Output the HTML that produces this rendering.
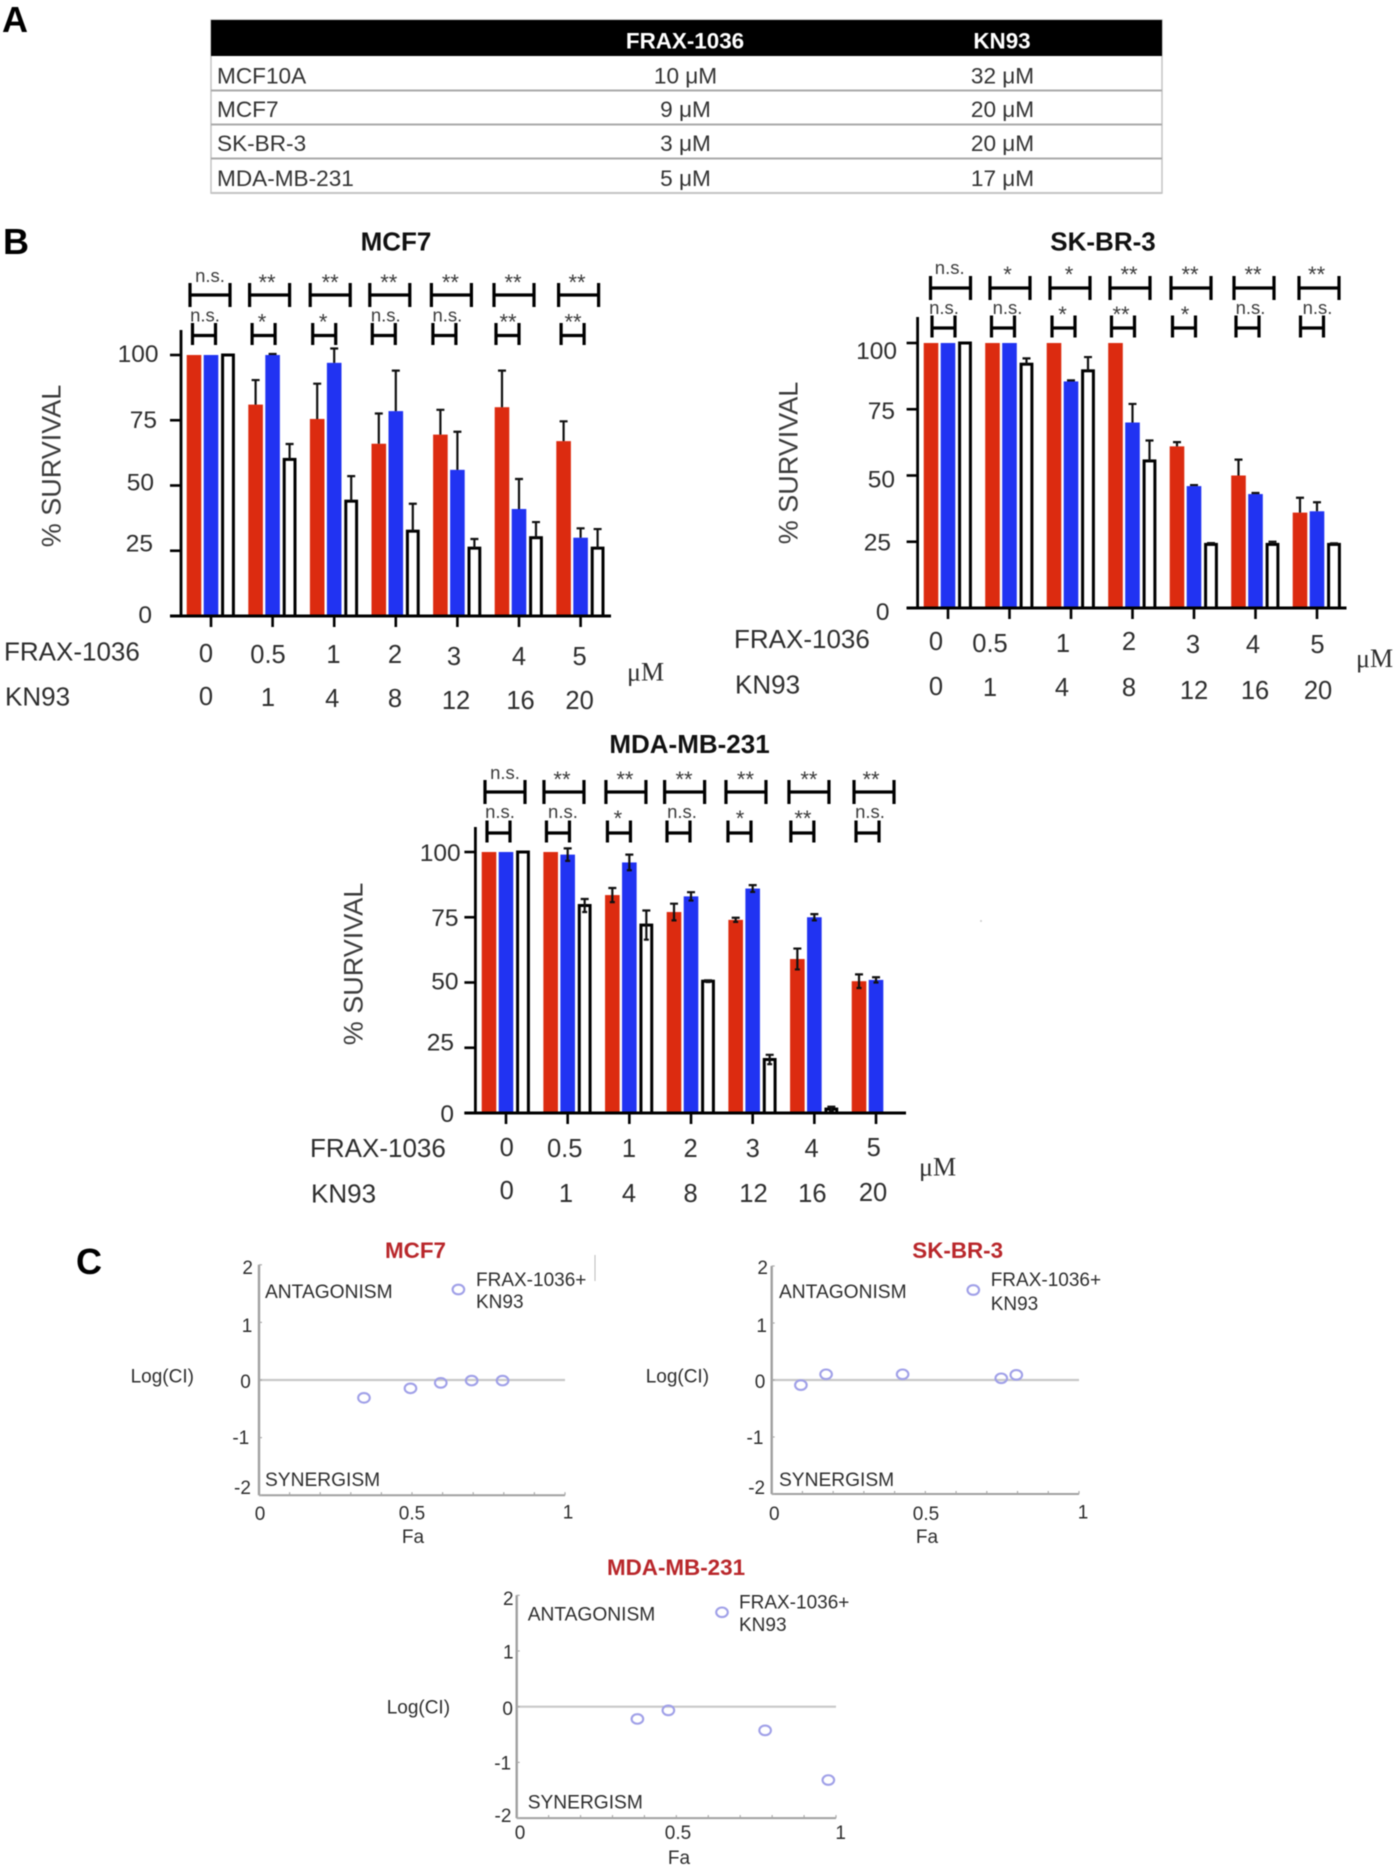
<!DOCTYPE html>
<html lang="en">
<head>
<meta charset="utf-8">
<title>FRAX-1036 and KN93 survival figure</title>
<style>
html,body{margin:0;padding:0;background:#fff;}
body{width:1399px;height:1868px;overflow:hidden;}
#figure{display:block;filter:blur(0.55px);}
text{font-family:"Liberation Sans",Arial,sans-serif;}
</style>
</head>
<body>
<svg id="figure" xmlns="http://www.w3.org/2000/svg" width="1399" height="1868" viewBox="0 0 1399 1868">
  <rect x="0" y="0" width="1399" height="1868" fill="#fff"/>
  <text x="2" y="32" font-size="36" font-weight="700" fill="#000">A</text>
  <text x="3" y="254" font-size="36" font-weight="700" fill="#000">B</text>
  <text x="76" y="1274" font-size="36" font-weight="700" fill="#000">C</text>

  <g>
    <rect x="211" y="20" width="951" height="173" fill="#fff" stroke="#c4c4c4" stroke-width="1.5"/>
    <rect x="211" y="20" width="951" height="36" fill="#000"/>
    <text x="688" y="48.5" font-size="22.4" font-weight="700" fill="#fff" text-anchor="middle" dx="0" transform="translate(-3,0)">FRAX-1036</text>
    <text x="1005" y="48.5" font-size="22.4" font-weight="700" fill="#fff" text-anchor="middle" transform="translate(-3,0)">KN93</text>
    <line x1="211" x2="1162" y1="90.5" y2="90.5" stroke="#aaa" stroke-width="2"/>
    <line x1="211" x2="1162" y1="124.5" y2="124.5" stroke="#aaa" stroke-width="2"/>
    <line x1="211" x2="1162" y1="158.5" y2="158.5" stroke="#aaa" stroke-width="2"/>
    <line x1="211" x2="1162" y1="193" y2="193" stroke="#c4c4c4" stroke-width="2"/>
    <g font-size="22.6" fill="#333">
      <text x="217" y="83.5">MCF10A</text>
      <text x="685.5" y="83.5" text-anchor="middle">10 μM</text>
      <text x="1002.5" y="83.5" text-anchor="middle">32 μM</text>
      <text x="217" y="117">MCF7</text>
      <text x="685.5" y="117" text-anchor="middle">9 μM</text>
      <text x="1002.5" y="117" text-anchor="middle">20 μM</text>
      <text x="217" y="151">SK-BR-3</text>
      <text x="685.5" y="151" text-anchor="middle">3 μM</text>
      <text x="1002.5" y="151" text-anchor="middle">20 μM</text>
      <text x="217" y="186">MDA-MB-231</text>
      <text x="685.5" y="186" text-anchor="middle">5 μM</text>
      <text x="1002.5" y="186" text-anchor="middle">17 μM</text>
    </g>
  </g>

  <line x1="595" x2="595" y1="1255" y2="1281" stroke="#bbb" stroke-width="1"/>
  <circle cx="981" cy="921" r="1" fill="#ccc"/>
  <g id="charts"></g>
</svg>

<script>
/* ---------- shared categories and tick labels ---------- */
const survivalTicks = [0, 25, 50, 75, 100];
const fraxDoses = ['0', '0.5', '1', '2', '3', '4', '5'];
const kn93Doses = ['0', '1', '4', '8', '12', '16', '20'];
const ciTicks = [2, 1, 0, -1, -2];
const faTicks = ['0', '0.5', '1'];

/* ---------- MCF7 survival ---------- */
const mcf7Frax = [100, 81, 75.5, 66, 69.5, 80, 67];
const mcf7Kn93 = [100, 100, 97, 78.5, 56, 41, 30];
const mcf7Combo = [100, 60, 44, 32.5, 26, 30, 26];
const mcf7FraxErr = [0, 9.4, 13.5, 11.6, 9.5, 14, 7.6];
const mcf7Kn93Err = [0, 0.4, 5.5, 15.5, 14.6, 11.5, 3.6];
const mcf7ComboErr = [0, 5.9, 9.6, 10.5, 3.5, 6, 7.3];
const mcf7SigTop = ['n.s.', '**', '**', '**', '**', '**', '**'];
const mcf7SigLow = ['n.s.', '*', '*', 'n.s.', 'n.s.', '**', '**'];

/* ---------- SK-BR-3 survival ---------- */
const skFrax = [100, 100, 100, 100, 61, 50, 36];
const skKn93 = [100, 100, 85.5, 70, 46, 43, 36.5];
const skCombo = [100, 92, 89.5, 55.5, 24, 24, 24];
const skFraxErr = [0, 0, 0, 0, 1.6, 6, 5.6];
const skKn93Err = [0, 0, 0.4, 7, 0.4, 0.4, 3.4];
const skComboErr = [0, 2.2, 5.2, 7.7, 0.5, 1, 0.4];
const skSigTop = ['n.s.', '*', '*', '**', '**', '**', '**'];
const skSigLow = ['n.s.', 'n.s.', '*', '**', '*', 'n.s.', 'n.s.'];

/* ---------- MDA-MB-231 survival ---------- */
const mdaFrax = [100, 100, 83.5, 77, 74, 59, 50.5];
const mdaKn93 = [100, 99, 96, 83, 86, 75, 51];
const mdaCombo = [100, 79.5, 72, 50.5, 20.5, 1.5, 0];
const mdaFraxErr = [0, 0, 2.7, 3.2, 0.8, 4, 2.6];
const mdaKn93Err = [0, 2.4, 3, 1.6, 1.3, 1.2, 1];
const mdaComboErr = [0, 2.5, 5.6, 0.3, 1.8, 0.9, 0];
const mdaSigTop = ['n.s.', '**', '**', '**', '**', '**', '**'];
const mdaSigLow = ['n.s.', 'n.s.', '*', 'n.s.', '*', '**', 'n.s.'];

/* ---------- Combination index plots ---------- */
const mcf7Fa = [0.343, 0.495, 0.594, 0.695, 0.796];
const mcf7LogCi = [-0.31, -0.145, -0.05, -0.01, -0.01];
const skFa = [0.095, 0.177, 0.426, 0.747, 0.796];
const skLogCi = [-0.09, 0.1, 0.1, 0.03, 0.09];
const mdaFa = [0.378, 0.475, 0.778, 0.976];
const mdaLogCi = [-0.22, -0.066, -0.425, -1.317];

const SVG_NS = 'http://www.w3.org/2000/svg';
const charts = document.getElementById('charts');

function mk(parent, tag, attrs) {
  const node = document.createElementNS(SVG_NS, tag);
  for (const key in attrs) node.setAttribute(key, attrs[key]);
  parent.appendChild(node);
  return node;
}

function txt(parent, str, x, yc, size, style) {
  const s = style || {};
  const shift = s.shift === undefined ? 0.358 : s.shift;
  const node = mk(parent, 'text', {
    x: x,
    y: yc + shift * size,
    'font-size': size,
    'text-anchor': s.anchor || 'middle',
    'font-weight': s.weight || 400,
    fill: s.fill || '#2e2e2e'
  });
  if (s.family) node.style.fontFamily = s.family;
  node.textContent = str;
  return node;
}

function drawSurvival(cfg) {
  const box = cfg.box;
  const xScale = function (i) { return box.firstTick + i * box.step; };
  const yScale = function (v) { return box.y0 - v * (box.y0 - box.y100) / 100; };

  const chart = mk(charts, 'g', {});
  
  

  const title = txt(chart, cfg.title, box.titleX, box.titleY, 26, { weight: 700, fill: '#111' });
  
  

  const series = [
    { key: 'frax', vals: cfg.frax, errs: cfg.fraxErr, off: -17, fill: '#dc2b10' },
    { key: 'kn93', vals: cfg.kn93, errs: cfg.kn93Err, off: 0, fill: '#2133f2' },
    { key: 'combo', vals: cfg.combo, errs: cfg.comboErr, off: 17, fill: '#fff' }
  ];

  series.forEach(function (s) {
    s.vals.forEach(function (v, i) {
      const cx = xScale(i) + s.off;
      let bar;
      if (s.key === 'combo') {
        bar = mk(chart, 'rect', {
          x: cx - 5.4, y: yScale(v), width: 10.8, height: Math.max(0, box.y0 - yScale(v)),
          fill: '#fff', stroke: '#000', 'stroke-width': 3
        });
      } else {
        bar = mk(chart, 'rect', {
          x: cx - 7.3, y: yScale(v), width: 14.6, height: Math.max(0, box.y0 - yScale(v)),
          fill: s.fill
        });
      }
      
      

      const e = s.errs[i];
      if (e > 0) {
        const lo = cfg.twoSided ? v - e : v;
        const err = mk(chart, 'path', {
          d: 'M' + cx + ' ' + yScale(lo) + 'V' + yScale(v + e) + 'M' + (cx - 4) + ' ' + yScale(v + e) + 'H' + (cx + 4) +
             (cfg.twoSided ? 'M' + (cx - 2.5) + ' ' + yScale(lo) + 'H' + (cx + 2.5) : ''),
          stroke: '#111', 'stroke-width': 2.2, fill: 'none'
        });
        
        
      }
    });
  });

  const yAxis = mk(chart, 'line', { x1: box.axisX, x2: box.axisX, y1: box.axisTop, y2: box.y0 + 1, stroke: '#000', 'stroke-width': 2.8 });
  
  
  const xAxis = mk(chart, 'line', { x1: box.axisX - 11, x2: box.axisEnd, y1: box.y0, y2: box.y0, stroke: '#000', 'stroke-width': 3 });
  
  

  survivalTicks.forEach(function (t, i) {
    const tick = mk(chart, 'line', { x1: box.axisX - 11, x2: box.axisX, y1: yScale(t), y2: yScale(t), stroke: '#000', 'stroke-width': 2.6 });
    
    
    const label = txt(chart, String(t), box.yLabelRight[i], yScale(t) + box.yLabelNudge[i], 24.5, { anchor: 'end' });
    
    
  });

  const yTitle = txt(chart, '% SURVIVAL', 0, 0, 27, { fill: '#3c3c3c' });
  yTitle.setAttribute('transform', 'translate(' + box.yTitleX + ',' + box.yTitleY + ') rotate(-90)');
  
  

  fraxDoses.forEach(function (dose, i) {
    const cx = xScale(i);
    const tick = mk(chart, 'line', { x1: cx, x2: cx, y1: box.y0, y2: box.y0 + 11, stroke: '#000', 'stroke-width': 2.6 });
    
    

    const fl = txt(chart, dose, cx + box.fraxNudge[i], box.fraxY[i], 25.5);
    
    
    const kl = txt(chart, kn93Doses[i], cx + box.kn93Nudge[i], box.kn93Y[i], 25.5);
    
    

    const topC = cx + box.topNudge[i];
    const top = mk(chart, 'path', {
      d: 'M' + (topC - 20) + ' ' + (box.topY - 12) + 'v24M' + (topC + 20) + ' ' + (box.topY - 12) + 'v24M' + (topC - 20) + ' ' + box.topY + 'h40',
      stroke: '#000', 'stroke-width': 3.2, fill: 'none'
    });
    
    

    const lowC = cx + box.lowNudge[i];
    const low = mk(chart, 'path', {
      d: 'M' + (lowC - 11.5) + ' ' + (box.lowY - 11) + 'v22M' + (lowC + 11.5) + ' ' + (box.lowY - 11) + 'v22M' + (lowC - 11.5) + ' ' + (box.lowY + 1.5) + 'h23',
      stroke: '#000', 'stroke-width': 3.2, fill: 'none'
    });
    
    

    const topStar = cfg.sigTop[i] !== 'n.s.';
    const tl = txt(chart, cfg.sigTop[i], cx + box.topLabelNudge[i], box.topLabelY, topStar ? 22 : 18.5,
      { fill: '#3c3c3c', shift: topStar ? 0.58 : 0.26 });
    
    

    const lowStar = cfg.sigLow[i] !== 'n.s.';
    const ll = txt(chart, cfg.sigLow[i], cx + box.lowLabelNudge[i], box.lowLabelY, lowStar ? 22 : 18.5,
      { fill: '#3c3c3c', shift: lowStar ? 0.58 : 0.26 });
    
    
  });

  const fraxName = txt(chart, 'FRAX-1036', box.nameX, box.fraxNameY, 26, { anchor: 'start' });
  
  
  const kn93Name = txt(chart, 'KN93', box.nameX + 1, box.kn93NameY, 26, { anchor: 'start' });
  
  
  const unit = txt(chart, 'μM', box.unitX, box.unitY, 26, { anchor: 'start', family: '"Liberation Serif",serif' });
  
  
}

function drawCi(cfg) {
  const box = cfg.box;
  const xScale = function (v) { return box.x0 + v * (box.x1 - box.x0); };
  const yScale = function (v) { return box.yZero - v * box.yUnit; };

  const chart = mk(charts, 'g', {});
  
  

  const title = txt(chart, cfg.title, box.titleX, box.titleY, 22.4, { weight: 700, fill: '#b9272b' });
  
  

  const zero = mk(chart, 'line', { x1: box.x0, x2: box.x1, y1: yScale(0), y2: yScale(0), stroke: '#c8c8c8', 'stroke-width': 2.2 });
  
  
  const yAxis = mk(chart, 'line', { x1: box.x0, x2: box.x0, y1: yScale(2), y2: yScale(-2), stroke: '#a0a0a0', 'stroke-width': 2.4 });
  
  
  const xAxis = mk(chart, 'line', { x1: box.x0, x2: box.x1, y1: yScale(-2), y2: yScale(-2), stroke: '#a0a0a0', 'stroke-width': 2 });
  
  

  for (let k = 1; k <= 10; k++) {
    const tick = mk(chart, 'line', { x1: xScale(k / 10), x2: xScale(k / 10), y1: yScale(-2), y2: yScale(-2) - 3, stroke: '#aaa', 'stroke-width': 1.2 });
    
    
  }

  ciTicks.forEach(function (t, i) {
    const tick = mk(chart, 'line', { x1: box.x0, x2: box.x0 + 3, y1: yScale(t), y2: yScale(t), stroke: '#aaa', 'stroke-width': 1.2 });
    
    
    const label = txt(chart, String(t), box.yLabelX[i], box.yLabelY[i], 19);
    
    
  });

  faTicks.forEach(function (t, i) {
    const label = txt(chart, t, box.xLabelX[i], box.xLabelY[i], 19);
    
    
  });

  const xTitle = txt(chart, 'Fa', box.faX, box.faY, 19);
  
  
  const yTitle = txt(chart, 'Log(CI)', box.logX, box.logY, 19, { anchor: 'start', shift: 0.3 });
  
  
  const ant = txt(chart, 'ANTAGONISM', box.textX, box.antY, 19.2, { anchor: 'start' });
  
  
  const syn = txt(chart, 'SYNERGISM', box.textX, box.synY, 19.2, { anchor: 'start' });
  
  

  const marker = mk(chart, 'ellipse', { cx: box.legendCx, cy: box.legendCy, rx: 5.8, ry: 4.8, fill: 'none', stroke: '#a0a0e8', 'stroke-width': 2.1 });
  
  
  const leg1 = txt(chart, 'FRAX-1036+', box.legendX, box.legendY1, 19, { anchor: 'start' });
  
  
  const leg2 = txt(chart, 'KN93', box.legendX, box.legendY2, 19, { anchor: 'start' });
  
  

  cfg.fa.forEach(function (fa, i) {
    const pt = mk(chart, 'ellipse', { cx: xScale(fa), cy: yScale(cfg.logCi[i]), rx: 5.8, ry: 4.8, fill: 'none', stroke: '#a0a0e8', 'stroke-width': 2.1 });
    
    
  });
}

drawSurvival({
  id: 'mcf7', title: 'MCF7', frax: mcf7Frax, kn93: mcf7Kn93, combo: mcf7Combo,
  fraxErr: mcf7FraxErr, kn93Err: mcf7Kn93Err, comboErr: mcf7ComboErr,
  sigTop: mcf7SigTop, sigLow: mcf7SigLow, twoSided: false,
  box: {
    firstTick: 211, step: 61.6, y0: 616, y100: 355, axisX: 181, axisTop: 330, axisEnd: 611,
    titleX: 396, titleY: 241, yTitleX: 51, yTitleY: 466,
    yLabelRight: [152, 153, 154, 157, 158.5], yLabelNudge: [-2, -8, -4, -1, -2],
    fraxNudge: [-5, -4.6, -0.7, -0.8, -3.4, 0, -1], fraxY: [653, 654, 654, 654, 656, 656, 656],
    kn93Nudge: [-5, -4.6, -2, -0.8, -1.4, 1.5, -1], kn93Y: [696, 697, 698, 698, 700, 700, 700],
    topNudge: [-1, -3, -4, -6, -6, -5, -2], topY: 295,
    lowNudge: [-7, -9, -10, -12, -13, -11.5, -8], lowY: 334,
    topLabelNudge: [-1, -5.6, -4, -7, -7, -6, -3.6], topLabelY: 277,
    lowLabelNudge: [-6, -10.6, -11, -10, -10, -11, -7.6], lowLabelY: 316.5,
    nameX: 4, fraxNameY: 651, kn93NameY: 696, unitX: 627, unitY: 671
  }
});

drawSurvival({
  id: 'sk-br-3', title: 'SK-BR-3', frax: skFrax, kn93: skKn93, combo: skCombo,
  fraxErr: skFraxErr, kn93Err: skKn93Err, comboErr: skComboErr,
  sigTop: skSigTop, sigLow: skSigLow, twoSided: false,
  box: {
    firstTick: 948, step: 61.5, y0: 608, y100: 343, axisX: 917.6, axisTop: 317, axisEnd: 1346.5,
    titleX: 1103, titleY: 241, yTitleX: 788, yTitleY: 463,
    yLabelRight: [889.5, 891, 895, 895, 897], yLabelNudge: [3, 0, 3, 1, 7],
    fraxNudge: [-12, -19.5, -8, -3.5, -1, -2.5, 0.5], fraxY: [641, 643, 643, 641, 644, 644, 644],
    kn93Nudge: [-12, -19.5, -9, -3.5, 0, -0.5, 1], kn93Y: [686, 687, 687, 687, 690, 690, 690],
    topNudge: [2.5, 0.5, -1, -2.5, -3, -1.5, 2], topY: 288,
    lowNudge: [-4.5, -6.5, -7.5, -9.5, -10, -8, -5], lowY: 326.5,
    topLabelNudge: [1.7, -2, -2, -3.5, -4, -2.5, -0.4], topLabelY: 269,
    lowLabelNudge: [-4, -2, -8.5, -11.5, -9, -5, 0.5], lowLabelY: 309,
    nameX: 734, fraxNameY: 638.5, kn93NameY: 684, unitX: 1356, unitY: 657.5
  }
});

drawSurvival({
  id: 'mda-mb-231', title: 'MDA-MB-231', frax: mdaFrax, kn93: mdaKn93, combo: mdaCombo,
  fraxErr: mdaFraxErr, kn93Err: mdaKn93Err, comboErr: mdaComboErr,
  sigTop: mdaSigTop, sigLow: mdaSigLow, twoSided: true,
  box: {
    firstTick: 506, step: 61.67, y0: 1113, y100: 852, axisX: 475.4, axisTop: 827, axisEnd: 906,
    titleX: 689.5, titleY: 743.5, yTitleX: 352.7, yTitleY: 964,
    yLabelRight: [454, 454, 458.5, 458.5, 460.7], yLabelNudge: [0, -6, -2, 0, 0],
    fraxNudge: [0.7, -3, -0.4, -0.4, 0, -2.8, -2.3], fraxY: [1147, 1148, 1148, 1148, 1148, 1148, 1147],
    kn93Nudge: [0.7, -1.7, -0.4, -0.4, 0.8, -2, -3], kn93Y: [1190, 1193, 1193, 1193, 1193, 1193, 1192],
    topNudge: [-1, -3.7, -3.4, -6.4, -6.7, -5.4, -2], topY: 792,
    lowNudge: [-7.5, -9.7, -10.4, -12.5, -13.2, -12, -8.5], lowY: 831.5,
    topLabelNudge: [-1, -5.7, -4.4, -7, -7.2, -5.4, -5], topLabelY: 774,
    lowLabelNudge: [-6, -4.7, -11.4, -9, -12.7, -11.4, -6], lowLabelY: 813,
    nameX: 310, fraxNameY: 1147.5, kn93NameY: 1193, unitX: 919, unitY: 1166
  }
});

drawCi({
  id: 'mcf7', title: 'MCF7', fa: mcf7Fa, logCi: mcf7LogCi,
  box: {
    x0: 259, x1: 565, yZero: 1380, yUnit: 57.6, titleX: 415.5, titleY: 1250,
    yLabelX: [247.7, 247, 245.5, 240.8, 242.5], yLabelY: [1267, 1325, 1381, 1437, 1487],
    xLabelX: [260, 412, 568], xLabelY: [1513, 1512.5, 1511.5], faX: 413, faY: 1536,
    logX: 130.6, logY: 1377, textX: 265, antY: 1291, synY: 1479,
    legendCx: 458.4, legendCy: 1289.5, legendX: 476, legendY1: 1279, legendY2: 1301
  }
});

drawCi({
  id: 'sk-br-3', title: 'SK-BR-3', fa: skFa, logCi: skLogCi,
  box: {
    x0: 771.7, x1: 1079, yZero: 1380, yUnit: 57, titleX: 957.7, titleY: 1250,
    yLabelX: [762.7, 761.7, 760, 755, 756.7], yLabelY: [1267, 1325, 1381, 1437, 1487],
    xLabelX: [774.3, 926, 1083], xLabelY: [1513, 1513, 1511.5], faX: 927, faY: 1536,
    logX: 645.7, logY: 1377, textX: 779, antY: 1291, synY: 1479,
    legendCx: 973.3, legendCy: 1290, legendX: 990.7, legendY1: 1279, legendY2: 1303
  }
});

drawCi({
  id: 'mda-mb-231', title: 'MDA-MB-231', fa: mdaFa, logCi: mdaLogCi,
  box: {
    x0: 516.7, x1: 836, yZero: 1706.7, yUnit: 55.7, titleX: 676, titleY: 1567,
    yLabelX: [508.3, 508.3, 507.7, 502.7, 503], yLabelY: [1598, 1651.7, 1708, 1762.7, 1815],
    xLabelX: [520, 678, 840.7], xLabelY: [1832, 1832, 1832], faX: 679, faY: 1857,
    logX: 386.7, logY: 1708, textX: 527.7, antY: 1613.8, synY: 1801.7,
    legendCx: 722, legendCy: 1612.3, legendX: 739, legendY1: 1601.7, legendY2: 1624
  }
});
</script>
</body>
</html>
